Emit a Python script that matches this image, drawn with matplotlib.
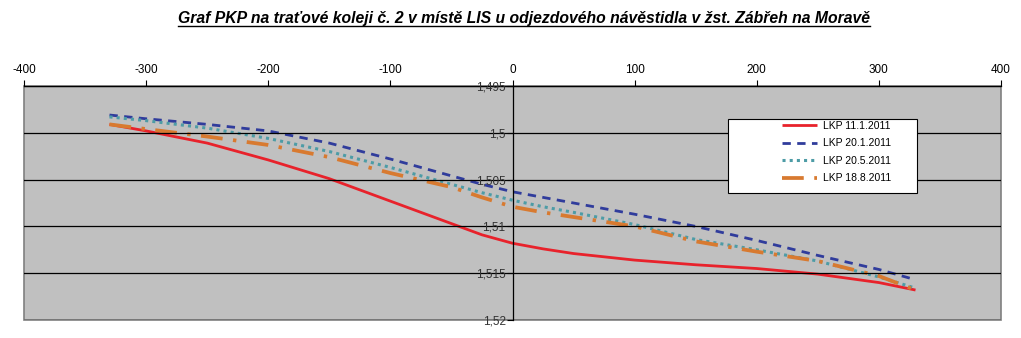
import matplotlib
matplotlib.use('Agg')
import matplotlib.pyplot as plt
from matplotlib.patches import Rectangle
from matplotlib.lines import Line2D

plt.rcParams['font.family'] = ['Liberation Sans', 'DejaVu Sans']
plt.rcParams['axes.unicode_minus'] = False

title = 'Graf PKP na traťové koleji č. 2 v místě LIS u odjezdového návěstidla v žst. Zábřeh na Moravě'

# stanicni poloha [m]
x_pos = [-330, -300, -250, -200, -150, -100, -50, -25, 0, 25, 50, 100, 150, 200, 250, 300, 330]

# zmereny rozchod [m]
lkp_11_1 = [1.4991, 1.4998, 1.5011, 1.5029, 1.5049, 1.5073, 1.5097, 1.5109, 1.5118,
            1.5124, 1.5129, 1.5136, 1.5141, 1.5145, 1.5151, 1.5160, 1.5168]
lkp_20_1 = [1.4981, 1.4985, 1.4991, 1.4998, 1.5011, 1.5028, 1.5046, 1.5055, 1.5063,
            1.5069, 1.5075, 1.5087, 1.5100, 1.5115, 1.5131, 1.5146, 1.5157]
lkp_20_5 = [1.4983, 1.4987, 1.4995, 1.5006, 1.5020, 1.5037, 1.5055, 1.5064, 1.5072,
            1.5079, 1.5085, 1.5098, 1.5114, 1.5125, 1.5137, 1.5154, 1.5166]
lkp_18_8 = [1.4991, 1.4996, 1.5004, 1.5013, 1.5026, 1.5043, 1.5058, 1.5069, 1.5079,
            1.5085, 1.5090, 1.5100, 1.5116, 1.5127, 1.5137, 1.5153, 1.5168]

series_labels = ['LKP 11.1.2011', 'LKP 20.1.2011', 'LKP 20.5.2011', 'LKP 18.8.2011']

x_ticks = [-400, -300, -200, -100, 0, 100, 200, 300, 400]
y_ticks = [1.495, 1.5, 1.505, 1.51, 1.515, 1.52]
y_tick_labels = ['1,495', '1,5', '1,505', '1,51', '1,515', '1,52']

W, H = 1021, 338
fig = plt.figure(figsize=(W / 100, H / 100), dpi=100)
ax = fig.add_axes([24 / W, 1 - 320 / H, 977 / W, 234 / H])
ax.set_facecolor('#c0c0c0')
ax.patch.set_edgecolor('#808080')
ax.patch.set_linewidth(1.2)

ax.plot(x_pos, lkp_11_1, color='#e8222b', lw=2.0, solid_capstyle='butt',
        solid_joinstyle='round')
ax.plot(x_pos, lkp_20_1, color='#303c9c', lw=2.0, linestyle=(0, (3.0, 2.3)),
        dash_capstyle='butt')
ax.plot(x_pos, lkp_20_5, color='#4d9ca6', lw=2.2, linestyle=(0, (1.0, 1.35)),
        dash_capstyle='butt')
ax.plot(x_pos, lkp_18_8, color='#d87a30', lw=2.7,
        linestyle=(0, (5.8, 2.8, 0.9, 2.8)), dash_capstyle='butt')

ax.set_xlim(-400, 400)
ax.set_ylim(1.52, 1.495)

ax.xaxis.tick_top()
ax.set_xticks(x_ticks)
ax.tick_params(axis='x', direction='out', length=4, width=0.8, pad=3,
               labelsize=8.5, colors='black')

ax.set_yticks(y_ticks)
ax.set_yticklabels(y_tick_labels)
ax.tick_params(axis='y', direction='out', length=4, width=0.8, pad=1,
               labelsize=8.5, labelcolor='#333333')
ax.yaxis.grid(True, color='black', lw=0.9)
ax.set_axisbelow(False)

ax.spines['left'].set_position(('data', 0))
ax.spines['left'].set_linewidth(0.9)
ax.spines['top'].set_linewidth(0.9)
ax.spines['right'].set_visible(False)
ax.spines['bottom'].set_visible(False)

# legend box
fig.add_artist(Rectangle((728 / W, 1 - 193 / H), 189 / W, 74 / H,
                         transform=fig.transFigure, facecolor='white',
                         edgecolor='black', lw=0.8))
fig.legend(ax.get_lines(), series_labels, loc='upper left',
           bbox_to_anchor=(782 / W, 1 - 121 / H), frameon=False,
           fontsize=7.5, borderpad=0, borderaxespad=0, handlelength=3.4,
           handletextpad=0.5, labelspacing=0.72)

t = fig.text(524 / W, 1 - 23 / H, title, ha='center', va='baseline',
             fontsize=11.3, fontweight='bold', fontstyle='italic')
fig.canvas.draw()
bb = t.get_window_extent()
fig.add_artist(Line2D([bb.x0 / W, bb.x1 / W], [1 - 25.5 / H, 1 - 25.5 / H],
                      transform=fig.transFigure, color='black', lw=1.0))

fig.savefig('out.png', dpi=100)
